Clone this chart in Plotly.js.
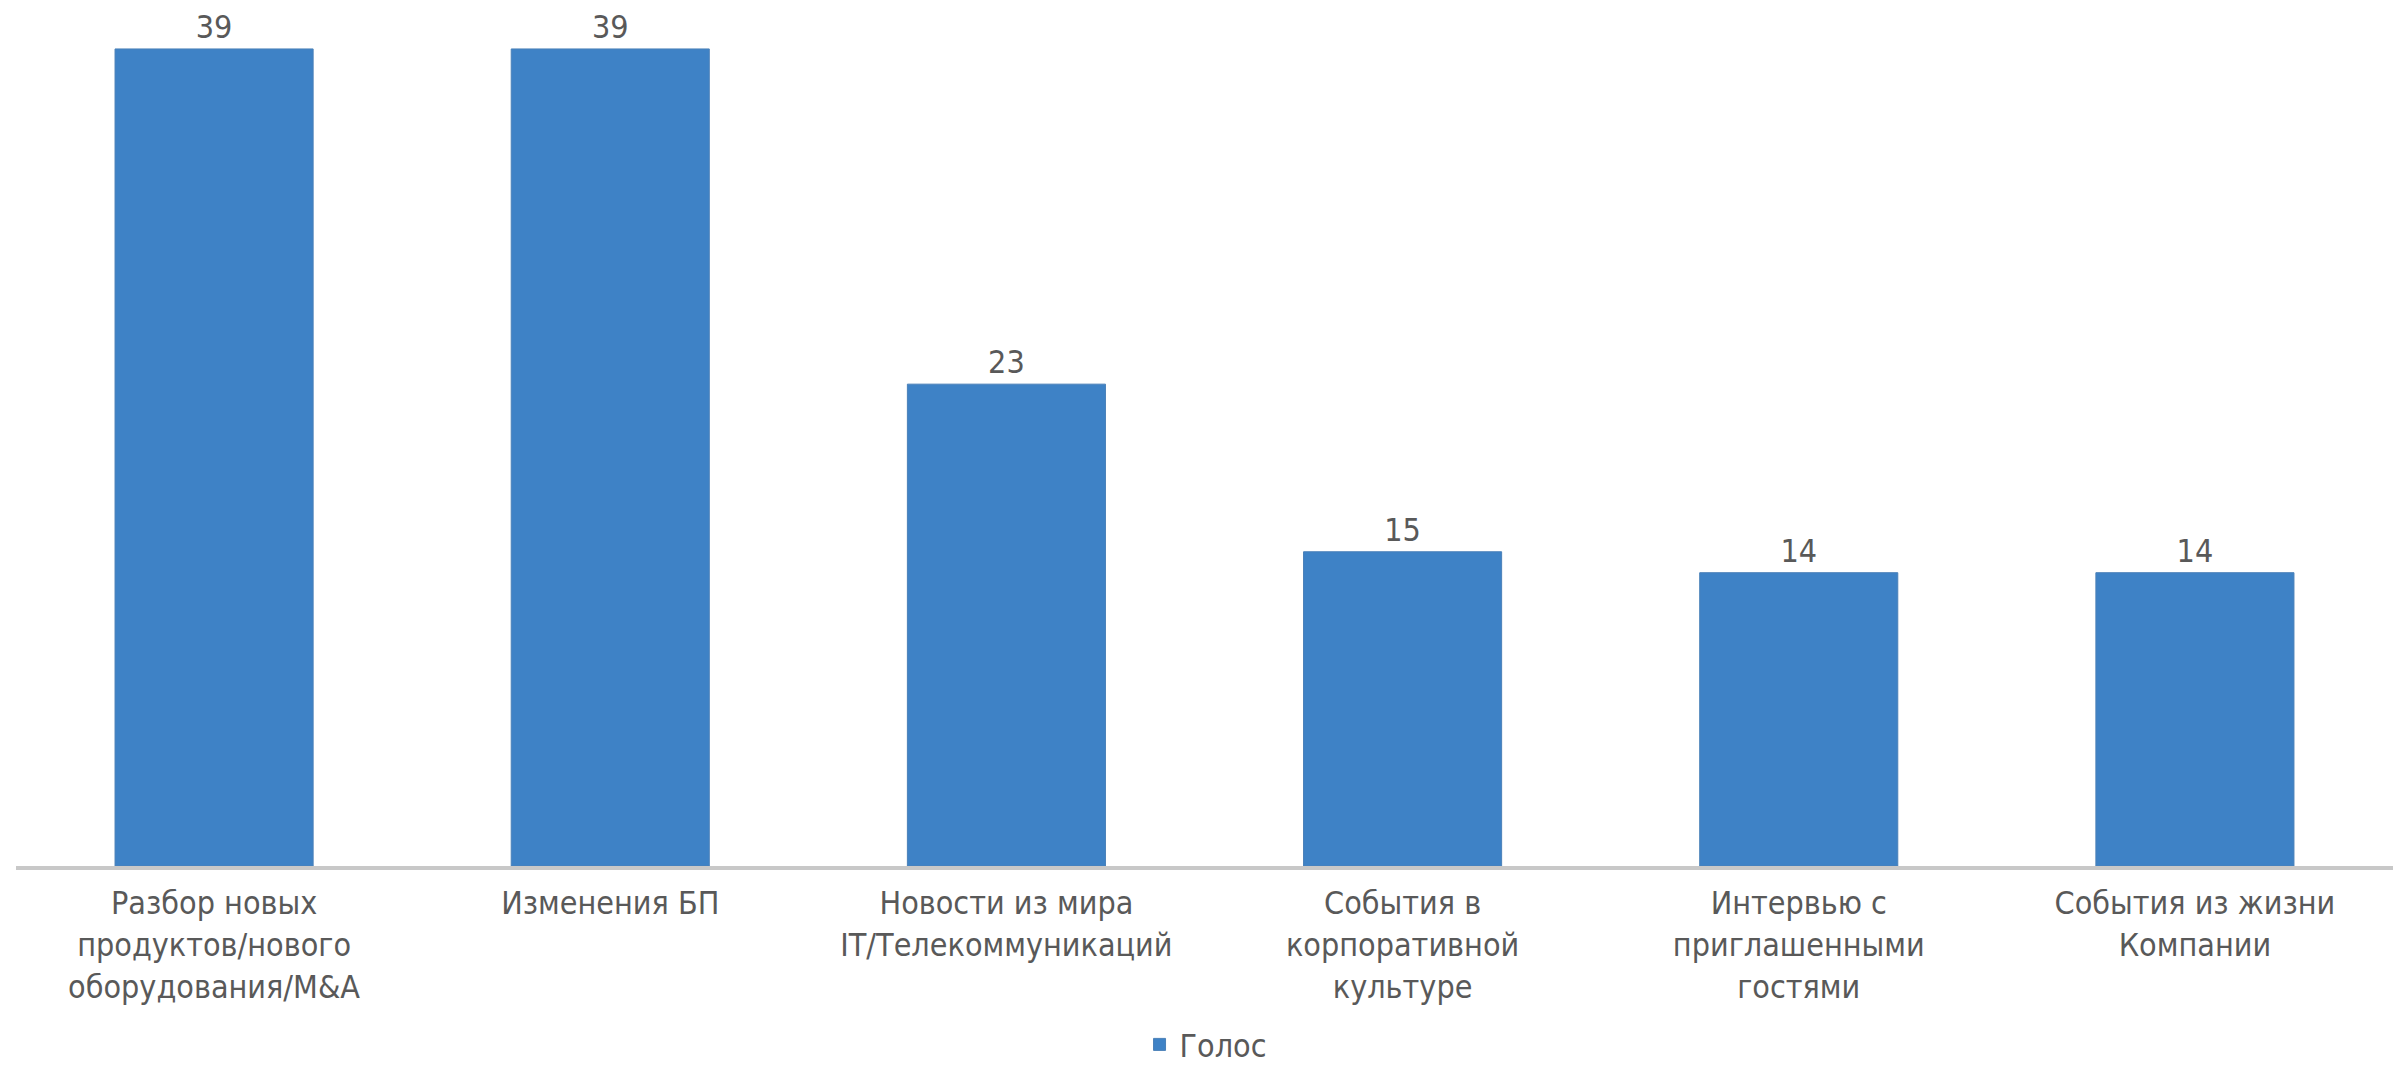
<!DOCTYPE html>
<html>
<head>
<meta charset="utf-8">
<script src="https://cdn.plot.ly/plotly-3.0.1.min.js"></script>
<style>
  html, body { margin: 0; padding: 0; background: #ffffff; }
  #chart { width: 2394px; height: 1067px; }
</style>
</head>
<body>
<div id="chart"></div>
<script>
// ---- data ----
const categories = [
  "Разбор новых<br>продуктов/нового<br>оборудования/M&amp;A",
  "Изменения БП",
  "Новости из мира<br>IT/Телекоммуникаций",
  "События в<br>корпоративной<br>культуре",
  "Интервью с<br>приглашенными<br>гостями",
  "События из жизни<br>Компании"
];
const votes = [39, 39, 23, 15, 14, 14];
const seriesName = "Голос";

// ---- styles ----
const FONT = "DejaVu Sans Condensed, DejaVu Sans, sans-serif";
const TEXT_COLOR = "#595959";
const BAR_COLOR = "#3e82c6";

const trace = {
  type: "bar",
  x: categories,
  y: votes,
  name: seriesName,
  text: votes.map(String),
  textposition: "outside",
  cliponaxis: false,
  textfont: { family: FONT, size: 32, color: TEXT_COLOR },
  marker: { color: BAR_COLOR, line: { color: "#4a80b8", width: 1 } },
  hoverinfo: "x+y",
  showlegend: true
};

const layout = {
  width: 2394,
  height: 1067,
  margin: { l: 16, r: 1, t: 28, b: 201 },
  paper_bgcolor: "#ffffff",
  plot_bgcolor: "#ffffff",
  font: { family: FONT, size: 32, color: TEXT_COLOR },
  bargap: 0.5,
  showlegend: true,
  xaxis: {
    type: "category",
    showgrid: false,
    zeroline: false,
    showline: true,
    linecolor: "#c8c8c8",
    linewidth: 4,
    ticks: "",
    tickangle: 0,
    ticklabelstandoff: 6,
    automargin: false,
    tickfont: { family: FONT, size: 32, color: TEXT_COLOR }
  },
  yaxis: {
    range: [0, 40],
    visible: false,
    showgrid: false,
    zeroline: false,
    fixedrange: true
  },
  legend: {
    orientation: "h",
    xref: "container",
    yref: "container",
    x: 0.476,
    xanchor: "left",
    y: 0.021,
    yanchor: "middle",
    font: { family: FONT, size: 32, color: TEXT_COLOR },
    bgcolor: "rgba(0,0,0,0)",
    itemwidth: 30
  }
};

Plotly.newPlot("chart", [trace], layout, { displayModeBar: false, staticPlot: true });
</script>
</body>
</html>
